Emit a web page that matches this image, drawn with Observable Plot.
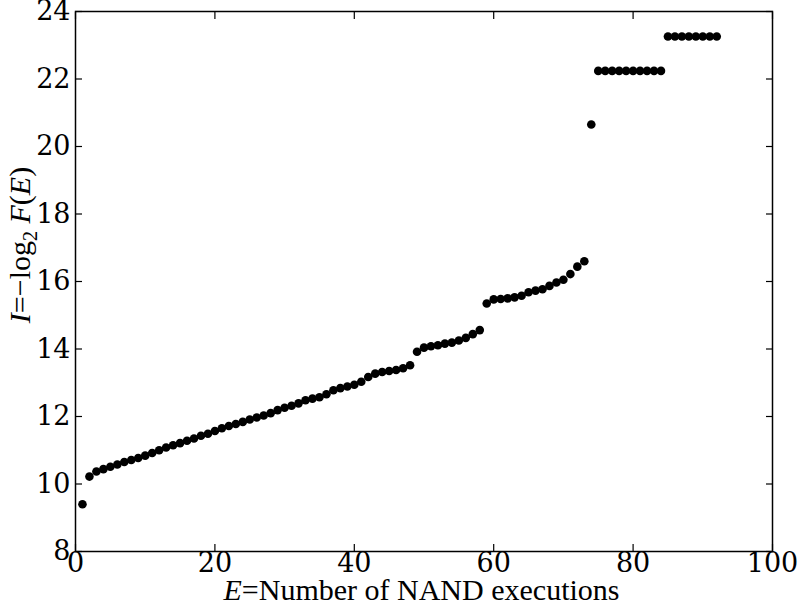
<!DOCTYPE html>
<html><head><meta charset="utf-8">
<script src="https://cdn.jsdelivr.net/npm/d3@7"></script>
<script src="https://cdn.jsdelivr.net/npm/@observablehq/plot@0.6"></script>
<style>body{margin:0;background:#fff;} #chart svg{display:block}
#chart svg text.lbl, #chart svg text.lbl tspan{font-family:"Liberation Serif","Times New Roman",Times,"DejaVu Serif",serif !important;}
</style>
</head><body><div id="chart"></div>
<script>
const executions = [1,2,3,4,5,6,7,8,9,10,11,12,13,14,15,16,17,18,19,20,
  21,22,23,24,25,26,27,28,29,30,31,32,33,34,35,36,37,38,39,40,
  41,42,43,44,45,46,47,48,49,50,51,52,53,54,55,56,57,58,59,60,
  61,62,63,64,65,66,67,68,69,70,71,72,73,74,75,76,77,78,79,80,
  81,82,83,84,85,86,87,88,89,90,91,92];
const information = [9.40,10.22,10.37,10.44,10.51,10.58,10.65,10.71,10.77,10.84,
  10.92,11.00,11.08,11.15,11.21,11.28,11.35,11.43,11.49,11.57,
  11.65,11.72,11.78,11.84,11.91,11.97,12.03,12.10,12.19,12.26,
  12.32,12.39,12.48,12.53,12.57,12.66,12.78,12.84,12.89,12.94,
  13.03,13.17,13.27,13.32,13.35,13.38,13.43,13.52,13.92,14.04,
  14.08,14.11,14.16,14.19,14.25,14.33,14.44,14.56,15.35,15.47,
  15.48,15.50,15.53,15.58,15.68,15.73,15.77,15.87,15.97,16.05,
  16.22,16.44,16.60,20.65,22.24,22.24,22.24,22.24,22.24,22.24,
  22.24,22.24,22.24,22.24,23.26,23.26,23.26,23.26,23.26,23.26,
  23.26,23.26];
const xTicks = [0,20,40,60,80,100];
const yTicks = [8,10,12,14,16,18,20,22,24];
const xDomain = [0,100];
const yDomain = [8,24];

const data = executions.map((e,i) => ({E: e, I: information[i]}));

const fig = Plot.plot({
  width: 800, height: 606,
  marginLeft: 75, marginRight: 28, marginTop: 11, marginBottom: 55,
  x: {domain: xDomain},
  y: {domain: yDomain},
  style: {fontFamily: "DejaVu Serif", fontSize: "27px", color: "black", background: "white", overflow: "visible"},
  marks: [
    Plot.dot(data, {x: "E", y: "I", r: 4.3, fill: "black", stroke: "none"}),
    Plot.axisX({anchor: "bottom", ticks: xTicks, tickSize: -7, tickPadding: 8, label: null, strokeWidth: 1.2}),
    Plot.axisX({anchor: "top", ticks: xTicks, tickSize: -7, tickFormat: () => "", label: null, strokeWidth: 1.2}),
    Plot.axisY({anchor: "left", ticks: yTicks, tickSize: -7, tickPadding: 12, label: null, strokeWidth: 1.2}),
    Plot.axisY({anchor: "right", ticks: yTicks, tickSize: -7, tickFormat: () => "", label: null, strokeWidth: 1.2}),
    Plot.frame({stroke: "black", strokeWidth: 1.5})
  ]
});
document.getElementById("chart").appendChild(fig);

const svg = d3.select(fig);
const xs = fig.scale("x").range, ys = fig.scale("y").range;
const cx = (xs[0] + xs[1]) / 2, cy = (ys[0] + ys[1]) / 2;

const xl = svg.append("text").attr("class", "lbl")
  .attr("x", cx - 2).attr("y", 600)
  .attr("text-anchor", "middle")
  .attr("font-size", 30).attr("fill", "black");
xl.append("tspan").attr("font-style", "italic").text("E");
xl.append("tspan").text("=Number of NAND executions");

const yl = svg.append("text").attr("class", "lbl")
  .attr("transform", `translate(30,${cy - 36}) rotate(-90)`)
  .attr("text-anchor", "middle")
  .attr("font-size", 30).attr("fill", "black");
yl.append("tspan").attr("font-style", "italic").text("I");
yl.append("tspan").text("=\u2212log");
yl.append("tspan").attr("font-size", 20).attr("dy", 7).text("2");
yl.append("tspan").attr("dy", -7).text(" ");
yl.append("tspan").attr("font-style", "italic").text("F");
yl.append("tspan").text("(");
yl.append("tspan").attr("font-style", "italic").text("E");
yl.append("tspan").text(")");
</script>
</body></html>
